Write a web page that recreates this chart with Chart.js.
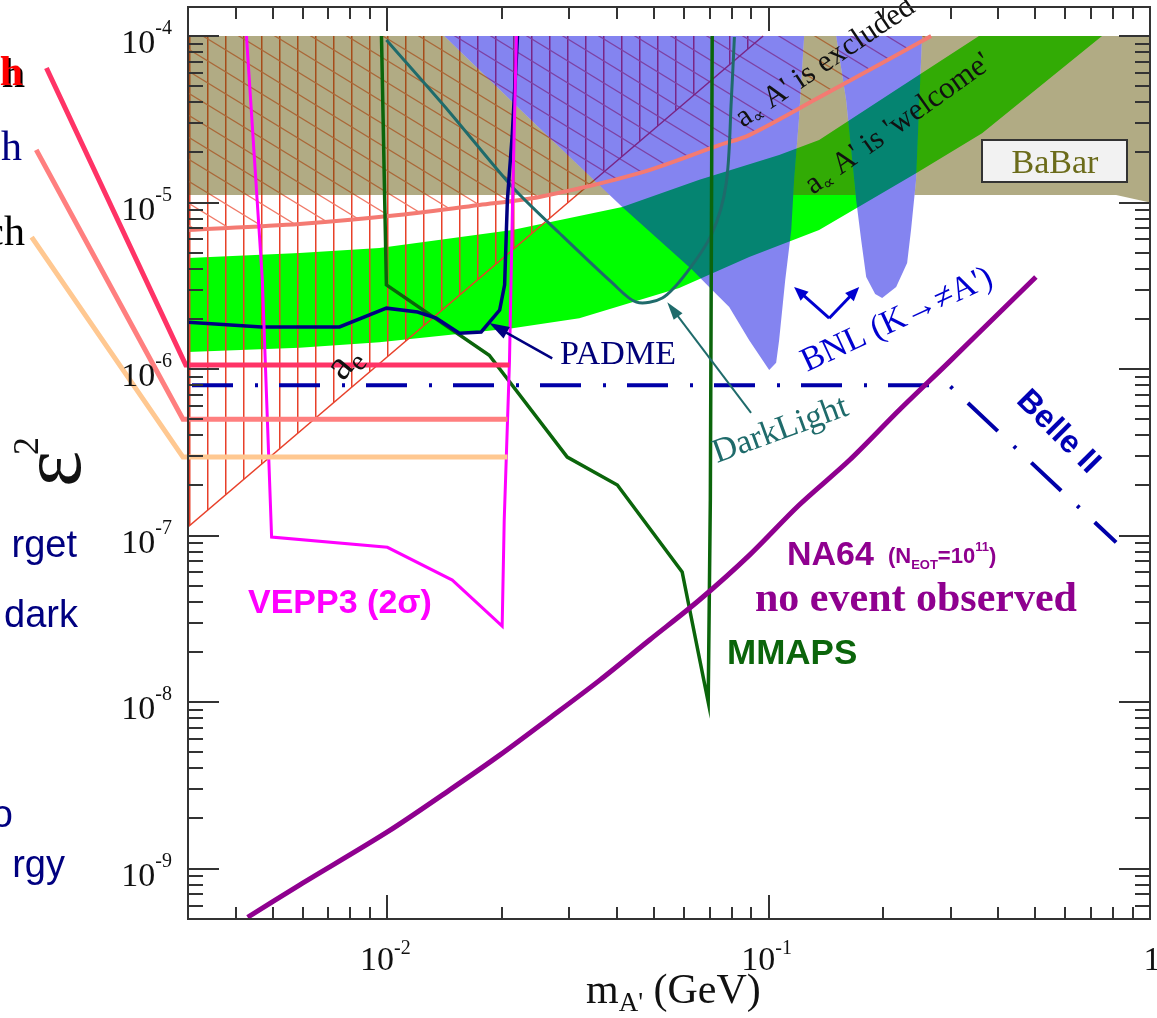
<!DOCTYPE html>
<html>
<head>
<meta charset="utf-8">
<title>Dark photon sensitivity</title>
<script src="https://cdn.jsdelivr.net/npm/chart.js@4.4.1/dist/chart.umd.min.js"></script>
<style>
  html, body { margin: 0; padding: 0; background: #ffffff; overflow: hidden; }
  canvas { display: block; }
</style>
</head>
<body>
<canvas id="chart" width="1157" height="1018"></canvas>
<script>
// axis ranges (m_A' in GeV, eps^2)
const xMin = 0.003, xMax = 1;
const yMin = 4.98e-10, yMax = 1.493e-4;
const xTickExp = [-2, -1, 0];
const yTickExp = [-9, -8, -7, -6, -5, -4];

// NA64 (N_EOT = 1e11), no event observed
const na64X = [0.0043, 0.00588, 0.01, 0.01455, 0.0197, 0.0266, 0.036, 0.0487, 0.0658, 0.0889, 0.12, 0.163, 0.22, 0.297, 0.402, 0.502];
const na64Y = [5.1e-10, 7.96e-10, 1.66e-9, 2.96e-9, 4.8e-9, 8.0e-9, 1.35e-8, 2.36e-8, 4.1e-8, 7.6e-8, 1.52e-7, 2.84e-7, 5.67e-7, 1.1e-6, 2.17e-6, 3.57e-6];

// Belle II projection
const belleX = [0.003, 0.297, 0.815];
const belleY = [8.0e-7, 8.0e-7, 9.1e-8];

// three thick reach lines, listed from the plot end out to the slide text on the left
const hotX = [0.0209, 0.00296, 0.001276];
const hotY = [1.057e-6, 1.057e-6, 6.42e-5];
const pinkX = [0.02064, 0.00291, 0.0012];
const pinkY = [5.0e-7, 5.0e-7, 2.07e-5];
const orangeX = [0.02064, 0.00291, 0.001167];
const orangeY = [2.96e-7, 2.96e-7, 6.2e-6];

// VEPP3 (2 sigma)
const vepX = [0.00427, 0.0047, 0.00497, 0.01, 0.0148, 0.02, 0.02025, 0.0209, 0.0213, 0.0218];
const vepY = [1e-4, 3.42e-6, 9.8e-8, 8.5e-8, 5.4e-8, 2.86e-8, 1.24e-7, 1.1e-6, 1.035e-5, 1e-4];

// PADME
const padX = [0.003, 0.00468, 0.00749, 0.00994, 0.012, 0.01343, 0.01545, 0.01762, 0.0197, 0.0203, 0.02064, 0.02127, 0.02194];
const padY = [1.91e-6, 1.79e-6, 1.79e-6, 2.32e-6, 2.2e-6, 2.02e-6, 1.64e-6, 1.67e-6, 2.26e-6, 3.2e-6, 1.035e-5, 2.61e-5, 1e-4];

// MMAPS
const mmX = [0.00965, 0.00994, 0.0185, 0.02963, 0.0401, 0.0593, 0.0694, 0.0703, 0.0711];
const mmY = [1e-4, 3.2e-6, 1.21e-6, 2.96e-7, 2.01e-7, 6.04e-8, 1.0e-8, 1.63e-7, 1e-4];

// DarkLight
const dlX = [0.00994, 0.01454, 0.02127, 0.02825, 0.0389, 0.045, 0.0526, 0.0608, 0.0711, 0.0774, 0.0798, 0.0813];
const dlY = [9.46e-5, 3.5e-5, 1.24e-5, 6.56e-6, 3.29e-6, 2.52e-6, 2.67e-6, 3.77e-6, 6.56e-6, 1.31e-5, 4.13e-5, 9.86e-5];

// a_mu exclusion boundary
const amuX = [0.003, 0.00588, 0.0107, 0.01742, 0.02503, 0.04575, 0.0742, 0.0889, 0.1332, 0.1984, 0.2667];
const amuY = [6.84e-6, 7.43e-6, 8.41e-6, 9.66e-6, 1.08e-5, 1.5e-5, 2.21e-5, 2.54e-5, 4.18e-5, 6.89e-5, 1e-4];

// a_e exclusion boundary
const aeX = [0.003, 0.0967];
const aeY = [1.125e-7, 1e-4];

// a_mu 'welcome' band
const bandUpX = [0.003, 0.00588, 0.00953, 0.02127, 0.0413, 0.0658, 0.1065, 0.1356, 0.22, 0.356, 0.7485];
const bandUpY = [4.65e-6, 4.98e-6, 5.33e-6, 6.84e-6, 9.4e-6, 1.37e-5, 1.93e-5, 2.37e-5, 4.88e-5, 1e-4, 1e-4];
const bandLoX = [0.003, 0.00588, 0.00953, 0.02127, 0.03187, 0.05826, 0.0889, 0.1356, 0.2435, 0.3628, 0.7485];
const bandLoY = [1.265e-6, 1.34e-6, 1.45e-6, 1.76e-6, 2.02e-6, 3.07e-6, 4.71e-6, 6.84e-6, 1.5e-5, 2.61e-5, 1e-4];

// BNL K -> pi A' regions
const bnl1X = [0.0141, 0.02503, 0.0413, 0.063, 0.0698, 0.0788, 0.0889, 0.1003, 0.1046, 0.1065, 0.1105, 0.1146, 0.1166, 0.12, 0.1239];
const bnl1Y = [1e-4, 2.8e-5, 9.4e-6, 3.94e-6, 3.11e-6, 2.36e-6, 1.49e-6, 9.86e-7, 1.09e-6, 1.49e-6, 3.42e-6, 6.84e-6, 1.37e-5, 3.13e-5, 1e-4];
const bnl2X = [0.1503, 0.1596, 0.1696, 0.1748, 0.1802, 0.1902, 0.1984, 0.2159, 0.2307, 0.2362, 0.2435, 0.2525];
const bnl2Y = [1e-4, 4.13e-5, 1.035e-5, 5.96e-6, 3.57e-6, 2.82e-6, 2.67e-6, 3.11e-6, 4.33e-6, 6.84e-6, 1.37e-5, 1e-4];

// BaBar excluded region (the parts not under the BNL regions)
const babarAX = [0.003, 0.0141, 0.02503, 0.0383, 0.003];
const babarAY = [1e-4, 1e-4, 2.8e-5, 1.11e-5, 1.11e-5];
const babarBX = [0.1239, 0.1503, 0.1596, 0.169, 0.116, 0.1166, 0.12];
const babarBY = [1e-4, 1e-4, 4.13e-5, 1.11e-5, 1.11e-5, 1.37e-5, 3.13e-5];
const babarCX = [0.2525, 1, 1, 0.815, 0.2413, 0.2435];
const babarCY = [1e-4, 1e-4, 1.0e-5, 1.11e-5, 1.11e-5, 1.37e-5];

// arrows [tailX, tailY, tipX, tipY]
const padmeArrow = [0.02706, 1.16e-6, 0.0185, 1.89e-6];
const darkArrow = [0.0899, 5.45e-7, 0.0542, 2.52e-6];
const bnlArrows = [[0.1441, 2.02e-6, 0.1166, 3.11e-6], [0.1441, 2.02e-6, 0.1727, 3.11e-6]];

const serif = '"Liberation Serif", "Times New Roman", serif';
const sans = '"Liberation Sans", Arial, sans-serif';

const canvas = document.getElementById('chart');
const ctx = canvas.getContext('2d');

function makePattern(w, h, draw) {
    const c = document.createElement('canvas');
    c.width = w; c.height = h;
    draw(c.getContext('2d'));
    return ctx.createPattern(c, 'repeat');
}
const vHatch = makePattern(18, 18, g => {
    g.fillStyle = '#e8402a';
    g.fillRect(9, 0, 1.5, 18);
});
const dHatch = makePattern(36, 22, g => {
    g.strokeStyle = '#f07a68';
    g.lineWidth = 1.3;
    for (let k = -1; k <= 1; k++) {
        g.beginPath();
        g.moveTo(-36, -22 + 22 * k);
        g.lineTo(72, 44 + 22 * k);
        g.stroke();
    }
});
const khaki = 'rgba(100, 88, 10, 0.5)';
const lavender = 'rgba(10, 10, 225, 0.5)';

const pts = (xs, ys) => xs.map((v, i) => ({ x: v, y: ys[i] }));

function area(data, fillStyle, order) {
    return { data, backgroundColor: fillStyle, borderColor: 'rgba(0,0,0,0)', borderWidth: 0, fill: 'shape', pointRadius: 0, tension: 0, order };
}
function curve(data, color, width, order, extra) {
    return Object.assign({ data, borderColor: color, borderWidth: width, fill: false, pointRadius: 0, tension: 0, order }, extra || {});
}

const bandX = bandUpX.concat(bandLoX.slice(0, -1).reverse());
const bandY = bandUpY.concat(bandLoY.slice(0, -1).reverse());

const datasets = [
    area(pts(bandX, bandY), '#00ff00', 100),
    area(pts(aeX.concat([0.003]), aeY.concat([1e-4])), vHatch, 96),
    area(pts(amuX.concat([0.003]), amuY.concat([1e-4])), dHatch, 95),
    curve(pts(aeX, aeY), '#e8402a', 1.5, 94),
    area(pts(babarAX, babarAY), khaki, 90),
    area(pts(babarBX, babarBY), khaki, 90),
    area(pts(babarCX, babarCY), khaki, 90),
    area(pts(bnl1X, bnl1Y), lavender, 89),
    area(pts(bnl2X, bnl2Y), lavender, 88),
    curve(pts(amuX, amuY), '#f47a72', 4, 60, { tension: 0.3 }),
    curve(pts(dlX, dlY), '#1f6b6b', 3, 55, { tension: 0.3 }),
    curve(pts(mmX, mmY), '#0b650b', 3.5, 54),
    curve(pts(padX, padY), '#000080', 3.5, 53),
    curve(pts(vepX, vepY), '#ff00ff', 3, 52),
    curve(pts(belleX, belleY), '#0000a8', 4, 50, { borderDash: [41, 22, 3, 21], borderDashOffset: 83 }),
    curve(pts(orangeX, orangeY), '#ffc891', 5, 45, { clip: false }),
    curve(pts(pinkX, pinkY), '#ff7f7f', 5, 44, { clip: false }),
    curve(pts(hotX, hotY), '#ff3366', 5, 43, { clip: false }),
    curve(pts(na64X, na64Y), '#8f008f', 5, 40, { tension: 0.3 })
];

// rich text helper: parts = [{t, s, dy, w, f}]
function runs(g, parts, x, y, measureOnly) {
    let cx = x;
    for (const p of parts) {
        g.font = (p.w || '') + ' ' + p.s + 'px ' + (p.f || serif);
        if (!measureOnly) g.fillText(p.t, cx, y + (p.dy || 0));
        cx += g.measureText(p.t).width;
    }
    return cx - x;
}
function rotated(g, x, y, deg, fn) {
    g.save();
    g.translate(x, y);
    g.rotate(deg * Math.PI / 180);
    fn();
    g.restore();
}
function arrow(g, X, Y, a, color, width, headLen, headW) {
    const x0 = X(a[0]), y0 = Y(a[1]), x1 = X(a[2]), y1 = Y(a[3]);
    const ang = Math.atan2(y1 - y0, x1 - x0);
    g.strokeStyle = color; g.fillStyle = color; g.lineWidth = width;
    g.beginPath();
    g.moveTo(x0, y0);
    g.lineTo(x1 - Math.cos(ang) * headLen * 0.8, y1 - Math.sin(ang) * headLen * 0.8);
    g.stroke();
    g.beginPath();
    g.moveTo(x1, y1);
    g.lineTo(x1 - Math.cos(ang) * headLen + Math.sin(ang) * headW / 2, y1 - Math.sin(ang) * headLen - Math.cos(ang) * headW / 2);
    g.lineTo(x1 - Math.cos(ang) * headLen - Math.sin(ang) * headW / 2, y1 - Math.sin(ang) * headLen + Math.cos(ang) * headW / 2);
    g.closePath();
    g.fill();
}

const decor = {
    id: 'decor',
    afterDatasetsDraw(chart) {
        const g = chart.ctx;
        const a = chart.chartArea;
        const sx = chart.scales.x, sy = chart.scales.y;
        const X = v => sx.getPixelForValue(v), Y = v => sy.getPixelForValue(v);
        g.save();
        g.textBaseline = 'alphabetic';
        g.textAlign = 'left';

        // BaBar label box
        g.fillStyle = '#f2f2f2';
        g.fillRect(982, 140, 145, 42);
        g.strokeStyle = '#333'; g.lineWidth = 2;
        g.strokeRect(982, 140, 145, 42);
        g.fillStyle = '#6b6b1a';
        g.font = '34px ' + serif;
        g.textAlign = 'center';
        g.fillText('BaBar', 1055, 173);
        g.textAlign = 'left';

        // arrows
        arrow(g, X, Y, padmeArrow, '#000080', 2.5, 20, 13);
        arrow(g, X, Y, darkArrow, '#1f6b6b', 2, 18, 11);
        for (const b of bnlArrows) arrow(g, X, Y, b, '#0000d0', 3, 14, 12);

        // labels on curves
        g.fillStyle = '#000078';
        g.font = '34px ' + serif;
        g.fillText('PADME', 560, 364);

        g.fillStyle = '#0b650b';
        g.font = 'bold 35px ' + sans;
        g.fillText('MMAPS', 727, 664);

        g.fillStyle = '#ff00ff';
        g.font = 'bold 34px ' + sans;
        g.fillText('VEPP3 (2σ)', 248, 613);

        g.fillStyle = '#8f008f';
        const w1 = runs(g, [{ t: 'NA64', s: 34, w: 'bold', f: sans }], 787, 565);
        runs(g, [
            { t: '(N', s: 22, w: 'bold', f: sans },
            { t: 'EOT', s: 13, w: 'bold', f: sans, dy: 6 },
            { t: '=10', s: 22, w: 'bold', f: sans },
            { t: '11', s: 13, w: 'bold', f: sans, dy: -12 },
            { t: ')', s: 22, w: 'bold', f: sans }
        ], 787 + w1 + 14, 563);
        g.font = 'bold 42px ' + serif;
        g.fillText('no event observed', 755, 611);

        g.fillStyle = '#1f6b6b';
        rotated(g, 717, 463, -20, () => { g.font = '34px ' + serif; g.fillText('DarkLight', 0, 0); });

        g.fillStyle = '#0000d0';
        rotated(g, 807, 372, -25, () => { g.font = '34px ' + serif; g.fillText('BNL (K→≠A\')', 0, 0); });

        g.fillStyle = '#0000b4';
        rotated(g, 1058, 432, 45, () => {
            g.font = 'bold 32px ' + sans;
            g.textAlign = 'center'; g.textBaseline = 'middle';
            g.fillText('Belle II', 0, 0);
        });
        g.textAlign = 'left'; g.textBaseline = 'alphabetic';

        g.fillStyle = '#111';
        rotated(g, 343, 382, -50, () => runs(g, [{ t: 'a', s: 42 }, { t: 'e', s: 28, dy: 7 }], 0, 0));
        rotated(g, 743, 128, -34, () => runs(g, [{ t: 'a', s: 31 }, { t: '∝', s: 17, dy: 5 }, { t: ' A\' is excluded', s: 31 }], 0, 0));
        rotated(g, 813, 195, -35.5, () => runs(g, [{ t: 'a', s: 31 }, { t: '∝', s: 17, dy: 5 }, { t: ' A\' is \'welcome\'', s: 31 }], 0, 0));

        // frame and ticks
        g.strokeStyle = '#333'; g.lineWidth = 2;
        g.strokeRect(a.left, a.top, a.right - a.left, a.bottom - a.top);
        g.beginPath();
        for (let n = -10; n <= -3; n++) {
            for (let k = 1; k <= 9; k++) {
                const v = k * Math.pow(10, n);
                if (v <= yMin || v >= yMax) continue;
                const p = Math.round(Y(v));
                const len = k === 1 ? 31 : 15;
                g.moveTo(a.left, p); g.lineTo(a.left + len, p);
                g.moveTo(a.right, p); g.lineTo(a.right - len, p);
            }
        }
        for (let n = -3; n <= 0; n++) {
            for (let k = 1; k <= 9; k++) {
                const v = k * Math.pow(10, n);
                if (v <= xMin * 1.001 || v >= xMax * 0.999) continue;
                const p = Math.round(X(v));
                const len = k === 1 ? 24 : 12;
                g.moveTo(p, a.bottom); g.lineTo(p, a.bottom - len);
                g.moveTo(p, a.top); g.lineTo(p, a.top + len);
            }
        }
        g.stroke();

        // tick labels
        g.fillStyle = '#111';
        for (const e of yTickExp) {
            const p = Y(Math.pow(10, e));
            const parts = [{ t: '10', s: 34 }, { t: String(e), s: 20, dy: -19 }];
            const w = runs(g, parts, 0, 0, true);
            runs(g, parts, 172 - w, p + 17);
        }
        for (const e of xTickExp) {
            const p = X(Math.pow(10, e));
            if (e === 0) {
                g.font = '34px ' + serif;
                g.textAlign = 'center';
                g.fillText('1', p + 2, 970);
                g.textAlign = 'left';
                continue;
            }
            const parts = [{ t: '10', s: 34 }, { t: String(e), s: 20, dy: -16 }];
            const w = runs(g, parts, 0, 0, true);
            runs(g, parts, p - w / 2 - 2, 970);
        }

        // axis titles
        runs(g, [{ t: 'm', s: 42 }, { t: 'A\'', s: 27, dy: 8 }, { t: ' (GeV)', s: 42 }], 586, 1003);
        rotated(g, 80, 487, -90, () => {
            g.font = '86px ' + serif;
            g.fillText('ε', 0, 0);
            g.font = '36px ' + serif;
            g.fillText('2', 32, -42);
        });

        // fragments of slide text cut off at the left edge
        g.textAlign = 'right';
        g.font = 'bold 42px ' + serif;
        g.fillStyle = '#000';
        g.fillText('h', 25, 87);
        g.fillStyle = '#ff0000';
        g.fillText('h', 23, 85);
        g.font = '42px ' + serif;
        g.fillStyle = '#000080';
        g.fillText('h', 22, 160);
        g.fillStyle = '#000';
        g.fillText('ch', 25, 245);
        g.font = '38px ' + sans;
        g.fillStyle = '#000080';
        g.fillText('rget', 77, 557);
        g.fillText('dark', 78, 627);
        g.fillText('o', 13, 827);
        g.fillText('rgy', 65, 877);
        g.restore();
    }
};

new Chart(ctx, {
    type: 'line',
    data: { datasets },
    options: {
        responsive: false,
        animation: false,
        events: [],
        devicePixelRatio: 1,
        layout: { padding: { left: 188, right: 7, top: 7, bottom: 99 } },
        plugins: { legend: { display: false }, tooltip: { enabled: false } },
        scales: {
            x: { type: 'logarithmic', min: xMin, max: xMax, display: false },
            y: { type: 'logarithmic', min: yMin, max: yMax, display: false }
        }
    },
    plugins: [decor]
});
</script>
</body>
</html>
